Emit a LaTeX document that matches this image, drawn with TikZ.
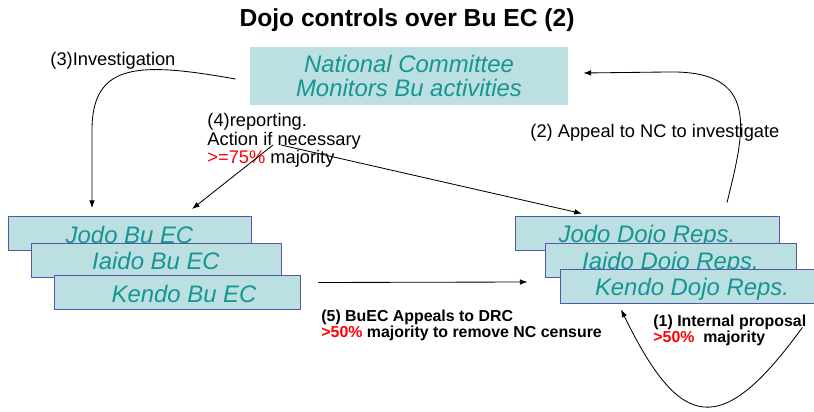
\documentclass[tikz,border=0pt]{standalone}
\usepackage{fontspec}
\setmainfont{Liberation Sans}
\usetikzlibrary{arrows.meta,calc}
\definecolor{boxfill}{RGB}{188,224,226}
\definecolor{boxline}{RGB}{86,86,170}
\definecolor{boxtext}{RGB}{22,150,146}
\newcommand\px{0.025cm}

\begin{document}
\begin{tikzpicture}[x=0.025cm, y=-0.025cm, line width=0.6pt, arrows={-Latex[length=5.5pt,width=4pt]},
	group/.style={fill=boxfill, text=boxtext, font=\fontsize{17}{17.5}\selectfont\itshape, inner sep=0pt, align=center},
	unit/.style={group, draw=boxline, minimum height=34*\px, text height=14pt, text depth=0pt},
	note/.style={font=\fontsize{13}{13.2}\selectfont, inner sep=0pt, align=left},
	bnote/.style={font=\fontsize{11.3}{11.4}\selectfont\bfseries, inner sep=0pt, align=left}]
	\useasboundingbox (0,0) rectangle (814,412);

	\node [font=\fontsize{17.5}{20}\selectfont\bfseries] (title) at (407,20) {Dojo controls over Bu EC (2)};
	\node [group, minimum width=318*\px, minimum height=58*\px] (NC) at (409,76) {National Committee\\Monitors Bu activities};

	\node [unit, minimum width=243*\px] (JB) at (129.5,233.5) {Jodo Bu EC};
	\node [unit, minimum width=250*\px] (IB) at (156,260) {Iaido Bu EC};
	\node [unit, minimum width=246*\px] (KB) at (177,292.5) {\hspace{0.35cm}Kendo Bu EC};

	\node [unit, minimum width=264*\px] (JD) at (647,233) {Jodo Dojo Reps.};
	\node [unit, minimum width=251*\px] (ID) at (670.5,260) {Iaido Dojo Reps.};
	\node [unit, minimum width=254*\px] (KD) at (687,286) {\hspace{0.25cm}Kendo Dojo Reps.};

	\node [note, anchor=base west] (inv) at (50,66) {(3)Investigation};
	\node [note, anchor=north west] (rep) at (207,113) {(4)reporting.\\Action if necessary\\\textcolor{red}{>=75\%} majority};
	\node [note, anchor=base west] (app) at (530,138) {(2) Appeal to NC to investigate};
	\node [bnote, anchor=north west] (drc) at (321,310) {(5) BuEC Appeals to DRC\\\textcolor{red}{>50\%} majority to remove NC censure};
	\node [bnote, anchor=north west] (prop) at (653,315) {(1) Internal proposal\\\textcolor{red}{>50\%}\ \ majority};

	\coordinate (r4a) at (273,145);
	\coordinate (r4b) at (281,145);

	\draw ($(NC.west)+(-14,3)$) .. controls +(-96,-17) and +(0,-68) .. ($(JB.north)+(-37.5,-86)$) -- ($(JB.north)+(-37.5,-8)$);
	\draw (r4a) -- ($(JB.north)+(62.5,-7)$);
	\draw (r4b) -- ($(JD.north)+(-65,-2)$);
	\draw ($(JD.north)+(80,-13)$) .. controls +(18,-73) and +(93,-2) .. ($(NC.east)+(99,-4)$) -- ($(NC.east)+(15,-3)$);
	\draw ($(KB.east)+(18,-10)$) -- ($(KD.west)+(-32,-4)$);
	\draw ($(KD.south east)+(-12,24)$) .. controls +(-82,113) and +(59,121) .. ($(KD.south)+(-66,6)$);
\end{tikzpicture}
\end{document}
